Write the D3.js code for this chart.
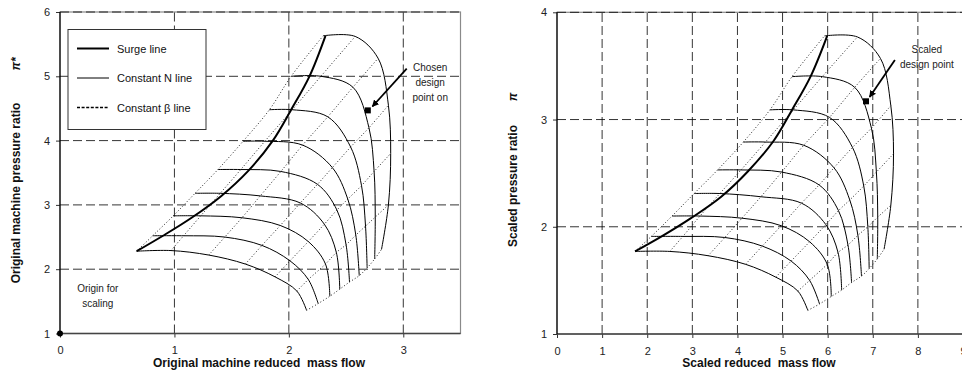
<!DOCTYPE html>
<html>
<head>
<meta charset="utf-8">
<script src="https://cdn.jsdelivr.net/npm/d3@7/dist/d3.min.js"></script>
<style>
  body { margin: 0; background: #fff; }
  svg { display: block; font-family: "Liberation Sans", Arial, sans-serif; }
  .tick text { font-size: 11px; fill: #222; }
  .axis-title { font-size: 12px; font-weight: bold; fill: #111; }
  .note { font-size: 10px; fill: #222; }
</style>
</head>
<body>
<svg id="canvas" width="962" height="387"></svg>
<script>
// Original machine map. Each speed line is a list of [mass flow, pressure ratio]
// taken where the line meets beta lines 0..6 (left end -> choke end).
const origSpeedLines = [
  [[0.67, 2.28], [0.97, 2.29], [1.30, 2.22], [1.62, 2.08], [1.88, 1.88], [2.07, 1.66], [2.155, 1.36]],
  [[0.81, 2.52], [1.08, 2.52], [1.44, 2.50], [1.765, 2.37], [2.01, 2.13], [2.17, 1.84], [2.256, 1.466]],
  [[0.99, 2.83], [1.23, 2.83], [1.59, 2.80], [1.925, 2.68], [2.17, 2.43], [2.32, 2.08], [2.358, 1.58]],
  [[1.18, 3.18], [1.40, 3.18], [1.75, 3.14], [2.10, 3.03], [2.31, 2.70], [2.415, 2.26], [2.445, 1.69]],
  [[1.38, 3.55], [1.58, 3.55], [1.93, 3.52], [2.25, 3.32], [2.42, 2.92], [2.50, 2.38], [2.53, 1.80]],
  [[1.60, 3.99], [1.79, 3.99], [2.12, 3.93], [2.38, 3.58], [2.515, 3.09], [2.585, 2.53], [2.615, 1.90]],
  [[1.83, 4.48], [2.03, 4.48], [2.34, 4.37], [2.54, 3.90], [2.635, 3.30], [2.67, 2.67], [2.684, 2.02]],
  [[2.02, 5.00], [2.28, 5.00], [2.56, 4.83], [2.70, 4.20], [2.745, 3.52], [2.755, 2.81], [2.75, 2.16]],
  [[2.30, 5.63], [2.58, 5.62], [2.78, 5.28], [2.87, 4.55], [2.89, 3.80], [2.87, 3.00], [2.81, 2.31]],
];
const origSurge = [[0.67, 2.28], [0.90, 2.52], [1.15, 2.80], [1.41, 3.14], [1.645, 3.53],
  [1.86, 4.00], [2.02, 4.48], [2.18, 5.00], [2.32, 5.63]];
const origDesign = [2.69, 4.47];
const origArrow = [[3.03, 5.12], [2.73, 4.53]];
const origOrigin = [0, 1];
const origXTicks = [0, 1, 2, 3];
const origYTicks = [1, 2, 3, 4, 5, 6];

// Scaled map
const scaledSpeedLines = [
  [[1.73, 1.77], [2.50, 1.77], [3.35, 1.73], [4.18, 1.65], [4.85, 1.53], [5.34, 1.40], [5.56, 1.22]],
  [[2.09, 1.91], [2.79, 1.91], [3.72, 1.90], [4.55, 1.82], [5.19, 1.68], [5.60, 1.50], [5.82, 1.28]],
  [[2.55, 2.10], [3.17, 2.10], [4.10, 2.08], [4.97, 2.01], [5.60, 1.86], [5.99, 1.65], [6.08, 1.35]],
  [[3.04, 2.31], [3.61, 2.31], [4.52, 2.28], [5.42, 2.22], [5.96, 2.02], [6.23, 1.76], [6.31, 1.41]],
  [[3.56, 2.53], [4.08, 2.53], [4.98, 2.51], [5.81, 2.39], [6.24, 2.15], [6.45, 1.83], [6.53, 1.48]],
  [[4.13, 2.79], [4.62, 2.79], [5.47, 2.76], [6.14, 2.55], [6.49, 2.25], [6.67, 1.92], [6.75, 1.54]],
  [[4.72, 3.09], [5.24, 3.09], [6.04, 3.02], [6.55, 2.74], [6.80, 2.38], [6.89, 2.00], [6.92, 1.61]],
  [[5.21, 3.40], [5.88, 3.40], [6.60, 3.30], [6.97, 2.92], [7.08, 2.51], [7.11, 2.09], [7.10, 1.70]],
  [[5.93, 3.78], [6.66, 3.77], [7.17, 3.57], [7.40, 3.13], [7.46, 2.68], [7.40, 2.20], [7.25, 1.79]],
];
const scaledSurge = [[1.73, 1.77], [2.32, 1.91], [2.97, 2.08], [3.64, 2.28], [4.24, 2.52],
  [4.80, 2.80], [5.21, 3.09], [5.62, 3.40], [5.99, 3.78]];
const scaledDesign = [6.85, 3.17];
const scaledArrow = [[7.49, 3.555], [6.93, 3.21]];
const scaledXTicks = [0, 1, 2, 3, 4, 5, 6, 7, 8, 9];
const scaledYTicks = [1, 2, 3, 4];

const legendItems = ["Surge line", "Constant N line", "Constant \u03b2 line"];

const svg = d3.select('#canvas');

svg.append("defs").append("marker")
  .attr("id", "head")
  .attr("viewBox", "0 0 10 10")
  .attr("refX", 9).attr("refY", 5)
  .attr("markerWidth", 7).attr("markerHeight", 7)
  .attr("markerUnits", "userSpaceOnUse")
  .attr("orient", "auto")
  .append("path")
  .attr("d", "M0,0 L10,5 L0,10 z")
  .attr("fill", "#000");

function panel(p) {
  const x = d3.scaleLinear().domain(p.xDomain).range(p.xRange);
  const y = d3.scaleLinear().domain(p.yDomain).range(p.yRange);
  const g = svg.append("g");
  const [x0, x1] = p.xRange, [y0, y1] = p.yRange;

  // plot area frame (grey), then dashed grid
  g.append("rect")
    .attr("x", x0).attr("y", y1)
    .attr("width", x1 - x0).attr("height", y0 - y1)
    .attr("fill", "none").attr("stroke", "#8a8a8a").attr("stroke-width", 1.2);

  g.append("g").selectAll("line")
    .data(p.xTicks.filter(d => d > p.xDomain[0]))
    .join("line")
    .attr("x1", d => x(d)).attr("x2", d => x(d))
    .attr("y1", y0).attr("y2", y1)
    .attr("stroke", "#000").attr("stroke-width", 0.8)
    .attr("stroke-dasharray", "9,4");

  g.append("g").selectAll("line")
    .data(p.yTicks.filter(d => d > p.yDomain[0]))
    .join("line")
    .attr("x1", x0).attr("x2", x1)
    .attr("y1", d => y(d)).attr("y2", d => y(d))
    .attr("stroke", "#000").attr("stroke-width", 0.8)
    .attr("stroke-dasharray", "9,4");

  // axes
  g.append("g")
    .attr("transform", `translate(0,${y0})`)
    .call(d3.axisBottom(x).tickValues(p.xTicks).tickFormat(d3.format("d"))
      .tickSize(4).tickSizeOuter(0).tickPadding(9))
    .call(a => a.select(".domain").remove())
    .call(a => a.selectAll(".tick line").attr("stroke", "#333"));
  g.append("g")
    .attr("transform", `translate(${x0},0)`)
    .call(d3.axisLeft(y).tickValues(p.yTicks).tickFormat(d3.format("d"))
      .tickSize(4).tickSizeOuter(0).tickPadding(6))
    .call(a => a.select(".domain").remove())
    .call(a => a.selectAll(".tick line").attr("stroke", "#333"));
  g.append("line")
    .attr("x1", x0).attr("x2", x1).attr("y1", y0).attr("y2", y0)
    .attr("stroke", "#444").attr("stroke-width", 1.6);
  g.append("line")
    .attr("x1", x0).attr("x2", x0).attr("y1", y0).attr("y2", y1)
    .attr("stroke", "#000").attr("stroke-width", 1.2);

  const line = d3.line().x(d => x(d[0])).y(d => y(d[1]));
  const smooth = d3.line().x(d => x(d[0])).y(d => y(d[1])).curve(d3.curveCatmullRom.alpha(0.5));

  // constant beta lines: same beta position taken from every speed line
  const betas = d3.range(p.speedLines[0].length).map(j => p.speedLines.map(s => s[j]));
  g.append("g").selectAll("path")
    .data(betas)
    .join("path")
    .attr("d", smooth)
    .attr("fill", "none").attr("stroke", "#222").attr("stroke-width", 1)
    .attr("stroke-dasharray", "1,2.2");

  // constant N lines
  g.append("g").selectAll("path")
    .data(p.speedLines)
    .join("path")
    .attr("d", smooth)
    .attr("fill", "none").attr("stroke", "#000").attr("stroke-width", 1);

  // surge line
  g.append("path")
    .datum(p.surge)
    .attr("d", smooth)
    .attr("fill", "none").attr("stroke", "#000").attr("stroke-width", 2);

  // design point + arrow
  g.append("rect")
    .attr("x", x(p.design[0]) - 3).attr("y", y(p.design[1]) - 3)
    .attr("width", 6).attr("height", 6).attr("fill", "#000");
  g.append("path")
    .datum(p.arrow)
    .attr("d", line)
    .attr("stroke", "#000").attr("stroke-width", 1.8)
    .attr("marker-end", "url(#head)");

  g.append("text")
    .attr("class", "note")
    .attr("text-anchor", "middle")
    .attr("x", x(p.noteAt[0])).attr("y", y(p.noteAt[1]))
    .selectAll("tspan")
    .data(p.note)
    .join("tspan")
    .attr("x", x(p.noteAt[0]))
    .attr("dy", (d, i) => i ? 15 : 0)
    .text(d => d);

  return { x, y, g };
}

const left = panel({
  xDomain: [0, 3.5], xRange: [60, 460.5],
  yDomain: [1, 6], yRange: [333.5, 12],
  xTicks: origXTicks, yTicks: origYTicks,
  speedLines: origSpeedLines, surge: origSurge,
  design: origDesign, arrow: origArrow,
  note: ["Chosen", "design", "point on"], noteAt: [3.235, 5.08],
});

const right = panel({
  xDomain: [0, 9], xRange: [557, 963],
  yDomain: [1, 4], yRange: [334, 12.3],
  xTicks: scaledXTicks, yTicks: scaledYTicks,
  speedLines: scaledSpeedLines, surge: scaledSurge,
  design: scaledDesign, arrow: scaledArrow,
  note: ["Scaled", "design point"], noteAt: [8.2, 3.62],
});

// origin for scaling
left.g.append("circle")
  .attr("cx", left.x(origOrigin[0])).attr("cy", left.y(origOrigin[1]))
  .attr("r", 3).attr("fill", "#000");
left.g.append("text")
  .attr("class", "note").attr("text-anchor", "middle")
  .selectAll("tspan")
  .data(["Origin for", "scaling"])
  .join("tspan")
  .attr("x", left.x(0.33))
  .attr("y", (d, i) => left.y(1.64) + i * 15)
  .text(d => d);

// legend
const lg = svg.append("g").attr("transform", "translate(68,29.5)");
lg.append("rect")
  .attr("width", 138).attr("height", 100)
  .attr("fill", "#fff").attr("stroke", "#333").attr("stroke-width", 1);
const lstyles = [
  { w: 2, dash: null },
  { w: 1, dash: null },
  { w: 1.5, dash: "3,1.6" },
];
legendItems.forEach((t, i) => {
  const yy = 19 + i * 29.5;
  lg.append("line")
    .attr("x1", 9).attr("x2", 41).attr("y1", yy).attr("y2", yy)
    .attr("stroke", "#000").attr("stroke-width", lstyles[i].w)
    .attr("stroke-dasharray", lstyles[i].dash);
  lg.append("text")
    .attr("x", 49).attr("y", yy + 4)
    .attr("font-size", 11).attr("fill", "#111")
    .text(t);
});

// axis titles
svg.append("text").attr("class", "axis-title")
  .attr("text-anchor", "middle").attr("x", 259).attr("y", 367)
  .text("Original machine reduced\u00a0 mass flow");
svg.append("text").attr("class", "axis-title")
  .attr("text-anchor", "middle").attr("x", 759).attr("y", 367)
  .text("Scaled reduced\u00a0 mass flow");

svg.append("text").attr("class", "axis-title")
  .attr("text-anchor", "middle")
  .attr("transform", "translate(20,193) rotate(-90)")
  .text("Original machine pressure ratio");
svg.append("text").attr("class", "axis-title")
  .attr("text-anchor", "middle").attr("font-style", "italic")
  .attr("transform", "translate(20,64) rotate(-90)")
  .text("\u03c0*");

svg.append("text").attr("class", "axis-title")
  .attr("text-anchor", "middle")
  .attr("transform", "translate(517,186) rotate(-90)")
  .text("Scaled pressure ratio");
svg.append("text").attr("class", "axis-title")
  .attr("text-anchor", "middle").attr("font-style", "italic")
  .attr("transform", "translate(517,97) rotate(-90)")
  .text("\u03c0");
</script>
</body>
</html>
